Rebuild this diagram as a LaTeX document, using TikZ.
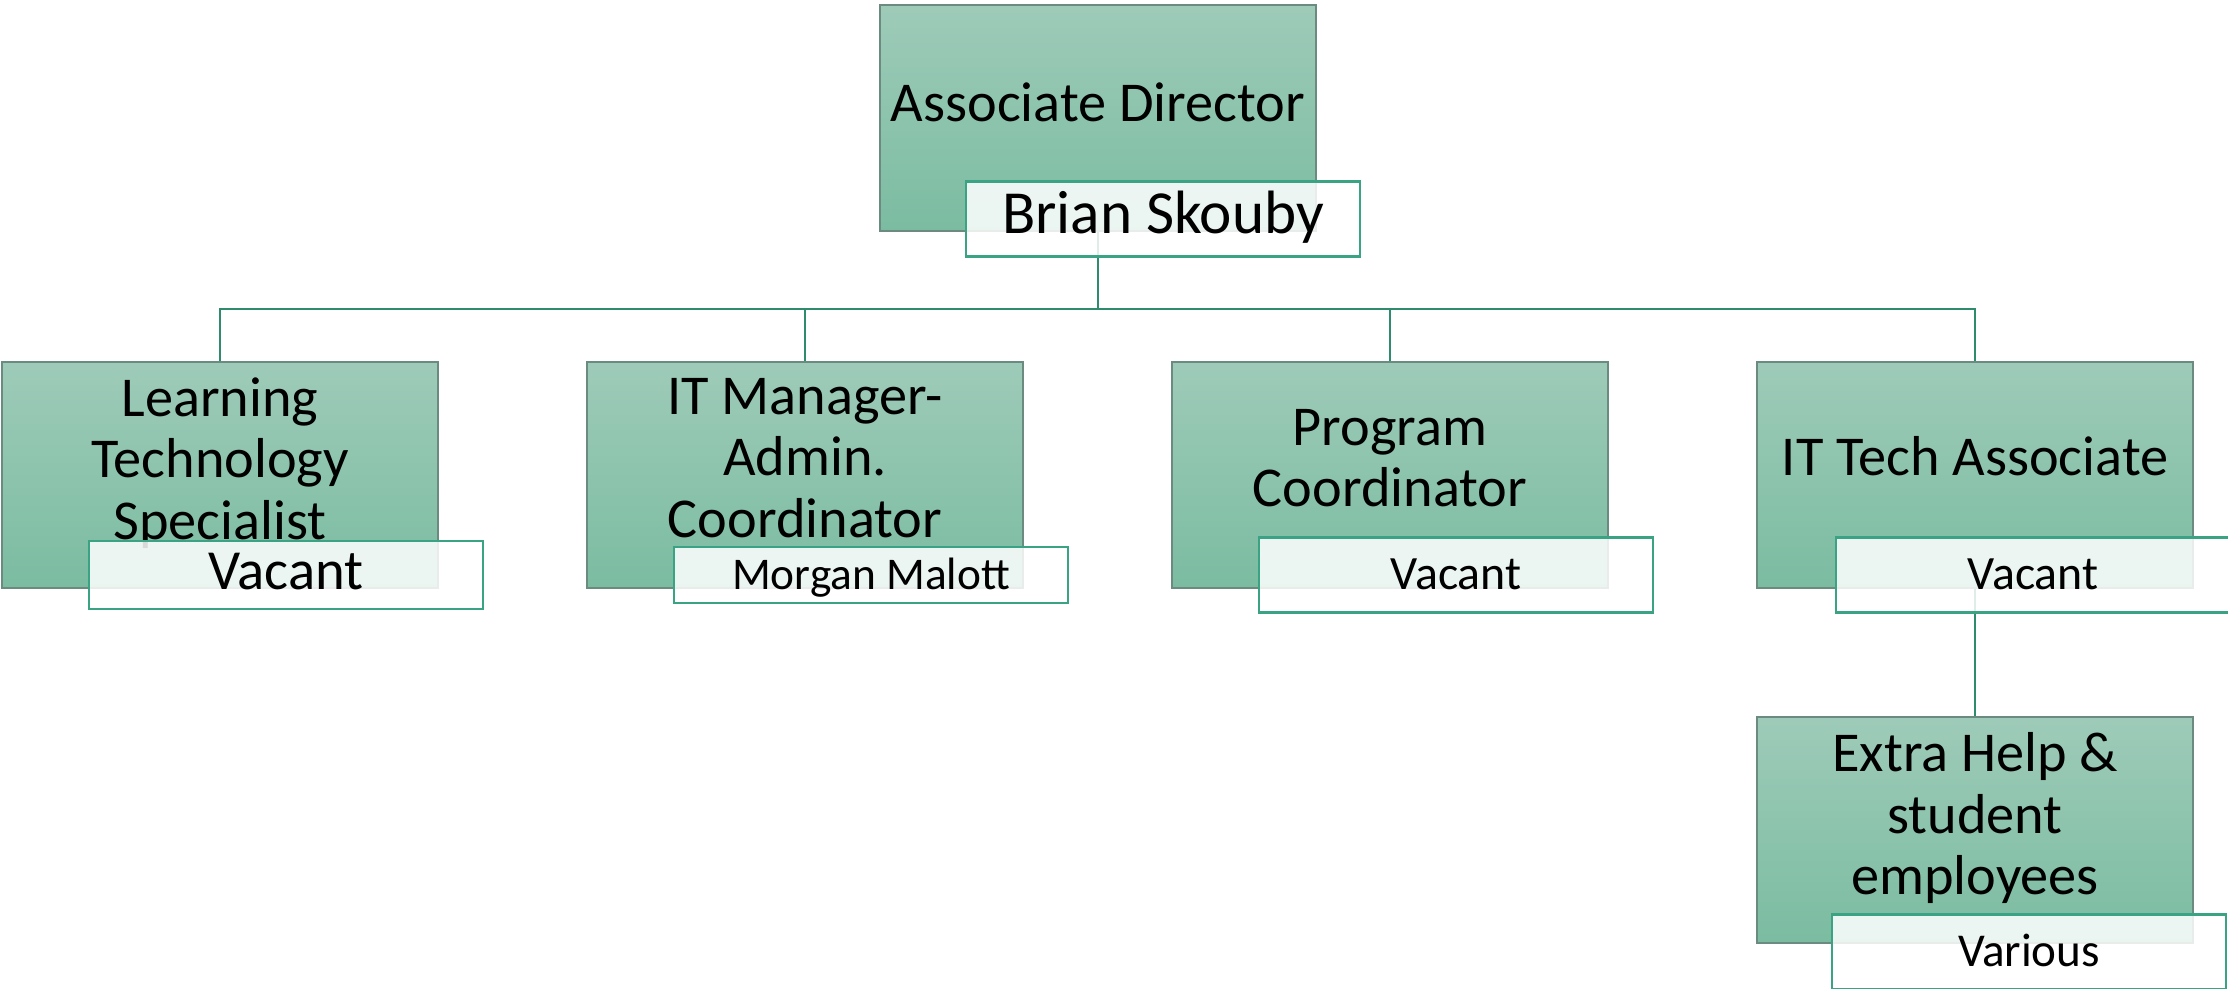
\documentclass[tikz,border=0pt]{standalone}
\usepackage{fontspec}
\setmainfont{Carlito}
\usepackage{xcolor}
\usetikzlibrary{calc}
\definecolor{boxtop}{HTML}{9ECBB9}
\definecolor{boxbot}{HTML}{7BBCA1}
\definecolor{boxline}{HTML}{6B8A80}
\definecolor{nameline}{HTML}{3AA383}
\definecolor{linkcol}{HTML}{2E8B6E}

\begin{document}
\begin{tikzpicture}[x=0.01cm,y=-0.01cm,
		rolebox/.style = {draw=boxline, line width=0.4pt,
			top color=boxtop, bottom color=boxbot,
			minimum width=4.36cm, minimum height=2.26cm, inner sep=0pt},
		roletext/.style = {align=center, inner sep=0pt,
			font=\fontsize{16}{17.5}\selectfont},
		namebox/.style = {draw=nameline, line width=0.6pt,
			fill=white, fill opacity=0.85, text opacity=1,
			minimum width=3.93cm, inner sep=0pt,
			text height=0.8em, text depth=0pt},
		link/.style = {draw=linkcol, line width=0.8pt},
	]
		\useasboundingbox (0,0) rectangle (2228,988);
		% boxes
		\node[rolebox] (dir) at (1098,118) {};
		\node[rolebox] (lts) at (220,475) {};
		\node[rolebox] (itm) at (805,475) {};
		\node[rolebox] (pc) at (1390,475) {};
		\node[rolebox] (itt) at (1975,475) {};
		\node[rolebox] (xh) at (1975,830) {};
		% lines
		\coordinate (bus) at (1098,309);
		\foreach \n in {lts,itm,pc,itt}
		{
			\draw[link] (dir.south) -- (bus) -| (\n.north);
		};
		\draw[link] (itt.south) -- (xh.north);
		% titles
		\node[roletext] (dirtxt) at (1098,102) {Associate Director};
		\node[roletext] (ltstxt) at (220,463) {Learning\\Technology\\Specialist};
		\node[roletext] (itmtxt) at (805,458) {IT Manager-\\Admin.\\Coordinator};
		\node[roletext] (pctxt) at (1390,458) {Program\\Coordinator};
		\node[roletext] (itttxt) at (1975,456) {IT Tech Associate};
		\node[roletext] (xhtxt) at (1975,818) {Extra Help \&\\student\\employees};
		% names
		\node[namebox, minimum height=0.75cm, font=\fontsize{17.4}{19}\selectfont] (dirname) at (1163,219) {Brian Skouby};
		\node[namebox, minimum height=0.68cm, font=\fontsize{16.1}{18}\selectfont] (ltsname) at (286,575) {Vacant};
		\node[namebox, minimum height=0.56cm, font=\fontsize{12.9}{14}\selectfont] (itmname) at (871,575) {Morgan Malott};
		\node[namebox, minimum height=0.75cm, font=\fontsize{13.6}{15}\selectfont] (pcname) at (1456,575) {Vacant};
		\node[namebox, minimum height=0.75cm, font=\fontsize{13.6}{15}\selectfont] (ittname) at (2033,575) {Vacant};
		\node[namebox, minimum height=0.75cm, font=\fontsize{13.4}{15}\selectfont] (xhname) at (2029,952) {Various};
	\end{tikzpicture}
\end{document}
